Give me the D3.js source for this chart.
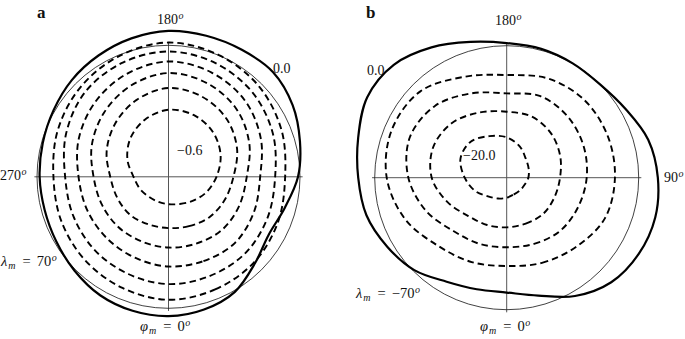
<!DOCTYPE html>
<html lang="en">
<head>
    <meta charset="UTF-8">
    <title>Polar contours</title>
    <script src="https://d3js.org/d3.v7.min.js"></script>
    <style>
        body { margin: 0; background: #fff; }
        text { font-family: "Liberation Serif", "DejaVu Serif", serif; fill: #111; }
    </style>
</head>
<body>
    <script>
        var width = 685;
        var height = 339;

        // angles (deg) where the radii were read; 180 top, 90 right, 0 bottom, 270 left
        var phiBoundary = [0,15,30,45,60,75,90,105,120,135,150,165,180,195,210,225,240,255,270,285,300,315,330,345];
        var phiContour = [0,22.5,45,67.5,90,112.5,135,157.5,180,202.5,225,247.5,270,292.5,315,337.5];

        // radii in units of the reference circle (thin line = 1)
        var aZero = [1.06,1.045,1.01,0.93,0.88,0.915,0.985,1.035,1.09,1.125,1.115,1.11,1.11,1.09,1.065,1.04,1.01,0.99,0.98,0.975,0.985,1.01,1.04,1.055];
        var aDashed = [
            [0.208,0.224,0.259,0.310,0.365,0.429,0.479,0.507,0.510,0.470,0.411,0.338,0.266,0.236,0.213,0.205],
            [0.390,0.406,0.437,0.462,0.494,0.564,0.624,0.661,0.675,0.633,0.573,0.509,0.443,0.421,0.411,0.392],
            [0.538,0.550,0.573,0.581,0.595,0.665,0.730,0.770,0.789,0.750,0.692,0.631,0.570,0.549,0.540,0.532],
            [0.682,0.694,0.713,0.703,0.697,0.760,0.821,0.858,0.877,0.844,0.795,0.740,0.684,0.668,0.662,0.666],
            [0.816,0.817,0.824,0.815,0.811,0.859,0.905,0.935,0.953,0.935,0.903,0.844,0.786,0.783,0.791,0.800],
            [0.935,0.927,0.920,0.901,0.887,0.930,0.973,1.002,1.021,0.992,0.954,0.913,0.875,0.882,0.897,0.915]
        ];

        var bZero = [0.87,0.925,1.035,1.12,1.155,1.165,1.145,1.11,1.04,1.0,1.0,1.01,1.02,1.065,1.14,1.21,1.22,1.165,1.125,1.10,1.045,0.99,0.91,0.875];
        var bDashed = [
            [0.152,0.138,0.139,0.145,0.164,0.180,0.204,0.257,0.306,0.341,0.386,0.379,0.318,0.260,0.200,0.171],
            [0.376,0.376,0.389,0.391,0.404,0.438,0.475,0.500,0.500,0.535,0.586,0.603,0.568,0.485,0.411,0.388],
            [0.527,0.542,0.571,0.585,0.606,0.630,0.654,0.668,0.639,0.692,0.769,0.795,0.745,0.660,0.571,0.542],
            [0.669,0.698,0.742,0.805,0.820,0.828,0.832,0.814,0.778,0.828,0.925,0.943,0.909,0.830,0.732,0.692]
        ];

        var svg = d3.select("body").append("svg")
                                    .attr("width", width)
                                    .attr("height", height)

        function drawPanel(cx, cy, radius, zero, dashed) {
            var rScale = d3.scaleLinear().domain([0, 1]).range([0, radius])
            var radial = d3.lineRadial()
                .angle(d => (180 - d[0]) * Math.PI / 180)
                .radius(d => rScale(d[1]))
                .curve(d3.curveCatmullRomClosed.alpha(0.5))

            var g = svg.append("g").attr("transform", "translate(" + cx + "," + cy + ")")
            var ext = rScale(1.02)

            g.append("line").attr("x1", -ext).attr("x2", ext).attr("y1", 0).attr("y2", 0)
                .attr("stroke", "#555").attr("stroke-width", 1)
            g.append("line").attr("x1", 0).attr("x2", 0).attr("y1", -ext).attr("y2", ext)
                .attr("stroke", "#555").attr("stroke-width", 1)

            g.append("circle").attr("r", rScale(1))
                .attr("fill", "none").attr("stroke", "#111").attr("stroke-width", 0.8)

            g.selectAll("path.dash")
                .data(dashed)
                .join("path")
                .attr("class", "dash")
                .attr("d", d => radial(phiContour.map((p, i) => [p, d[i]])))
                .attr("fill", "none")
                .attr("stroke", "#000")
                .attr("stroke-width", 1.9)
                .attr("stroke-dasharray", "6.5,4")

            g.append("path")
                .attr("d", radial(phiBoundary.map((p, i) => [p, zero[i]])))
                .attr("fill", "none")
                .attr("stroke", "#000")
                .attr("stroke-width", 2.2)
        }

        drawPanel(168.5, 176.8, 131.5, aZero, aDashed)
        drawPanel(506.7, 177.7, 132, bZero, bDashed)

        function label(x, y, str, size) {
            return svg.append("text").attr("x", x).attr("y", y)
                .attr("font-size", size || 14).text(str)
        }
        // number with a superscript "o"
        function degLabel(x, y, num) {
            var t = label(x, y, num)
            t.append("tspan").attr("font-style", "italic").attr("font-size", 10)
                .attr("dx", 0.5).attr("dy", -5).text("o")
            return t
        }
        // symbol_m = value^o
        function mathLabel(x, y, sym, val) {
            var t = svg.append("text").attr("x", x).attr("y", y).attr("font-size", 14.5)
            t.append("tspan").attr("font-style", "italic").text(sym)
            t.append("tspan").attr("font-style", "italic").attr("font-size", 10)
                .attr("dx", 1).attr("dy", 3).text("m")
            t.append("tspan").attr("dy", -3).attr("dx", 7).text("=")
            t.append("tspan").attr("dx", 6).text(val)
            t.append("tspan").attr("font-style", "italic").attr("font-size", 10)
                .attr("dx", 0.5).attr("dy", -5).text("o")
            return t
        }

        label(37, 18, "a", 17).attr("font-weight", "bold")
        degLabel(157, 24, "180")
        label(273, 73, "0.0")
        label(177, 155, "\u22120.6")
        degLabel(0, 180, "270")
        mathLabel(1, 266, "\u03bb", "70")
        mathLabel(140, 331, "\u03c6", "0")

        label(366, 18, "b", 17).attr("font-weight", "bold")
        degLabel(495, 25, "180")
        label(367, 75, "0.0")
        label(463, 160, "\u221220.0")
        degLabel(664, 182, "90")
        mathLabel(356, 298, "\u03bb", "\u221270")
        mathLabel(480, 331, "\u03c6", "0")
    </script>
</body>
</html>
